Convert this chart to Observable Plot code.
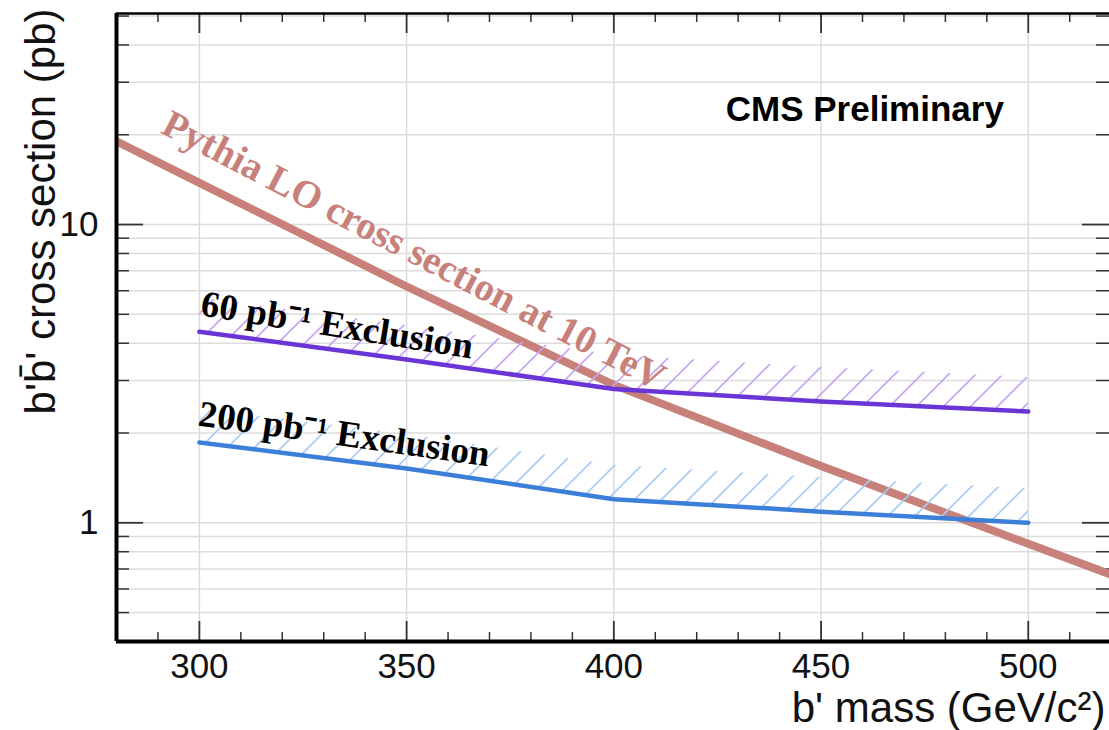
<!DOCTYPE html>
<html><head><meta charset="utf-8">
<script src="https://cdn.jsdelivr.net/npm/d3@7"></script>
<script src="https://cdn.jsdelivr.net/npm/@observablehq/plot@0.6"></script>
<style>html,body{margin:0;padding:0;background:#fff;overflow:hidden}</style>
</head><body><div id="chart"></div>
<script>
// ---- data ----
const massPythia = [280, 300, 350, 400, 450, 500, 520];
const xsecPythia = [19.0, 13.8, 6.2, 2.9, 1.55, 0.85, 0.67];
const massExcl = [300, 350, 400, 450, 500];
const excl60 = [4.37, 3.53, 2.81, 2.55, 2.36];
const excl200 = [1.86, 1.52, 1.20, 1.09, 1.00];
const xMajorTicks = [300, 350, 400, 450, 500];
const xMinorTicks = [290, 310, 320, 330, 340, 360, 370, 380, 390, 410, 420, 430, 440, 460, 470, 480, 490, 510];
const yMajorTicks = [1, 10];
const yMinorTicks = [0.4, 0.5, 0.6, 0.7, 0.8, 0.9, 2, 3, 4, 5, 6, 7, 8, 9, 20, 30, 40, 50];
const yTickLabels = ["1", "10"];
const hatchFactor = 1.3;

const pythia = massPythia.map((m, i) => ({mass: m, xsec: xsecPythia[i]}));
const ex60 = massExcl.map((m, i) => ({mass: m, v: excl60[i]}));
const ex200 = massExcl.map((m, i) => ({mass: m, v: excl200[i]}));

// ---- layout ----
const W = 1109, H = 730, mL = 116, mR = 0, mT = 13, mB = 89;
const fw = W - mL - mR, fh = H - mT - mB;

function hatchDefs() {
  const ns = "http://www.w3.org/2000/svg";
  const defs = document.createElementNS(ns, "defs");
  [["hatch60", "#c6a5f3"], ["hatch200", "#a7cbf3"]].forEach(([id, col]) => {
    const p = document.createElementNS(ns, "pattern");
    p.setAttribute("id", id);
    p.setAttribute("patternUnits", "userSpaceOnUse");
    p.setAttribute("width", 27);
    p.setAttribute("height", 27);
    const path = document.createElementNS(ns, "path");
    path.setAttribute("d", "M0,27L27,0M-3,3L3,-3M24,30L30,24");
    path.setAttribute("stroke", col);
    path.setAttribute("stroke-width", 1.6);
    path.setAttribute("fill", "none");
    p.appendChild(path);
    defs.appendChild(p);
  });
  return defs;
}

const sans = "'Liberation Sans', Arial, Helvetica, sans-serif";
const serif = "'Liberation Serif', 'Times New Roman', serif";

const chart = Plot.plot({
  width: W, height: H,
  marginLeft: mL, marginRight: mR, marginTop: mT, marginBottom: mB,
  style: {fontFamily: sans, background: "#fff", color: "#000"},
  x: {domain: [280, 519.6]},
  y: {type: "log", domain: [0.4, 51]},
  marks: [
    hatchDefs,
    // grid
    Plot.ruleX(xMajorTicks, {x: d => d, stroke: "#dcdcdc", strokeWidth: 1.5}),
    Plot.ruleY([...yMajorTicks, ...yMinorTicks], {y: d => d, stroke: "#dcdcdc", strokeWidth: 1.5}),
    // ticks (inside the frame)
    Plot.tickX(xMajorTicks, {x: d => d, insetTop: fh - 20, stroke: "#333", strokeWidth: 1.8}),
    Plot.tickX(xMinorTicks, {x: d => d, insetTop: fh - 9, stroke: "#333", strokeWidth: 1.5}),
    Plot.tickX(xMajorTicks, {x: d => d, insetBottom: fh - 20, stroke: "#333", strokeWidth: 1.8}),
    Plot.tickX(xMinorTicks, {x: d => d, insetBottom: fh - 9, stroke: "#333", strokeWidth: 1.5}),
    Plot.tickY(yMajorTicks, {y: d => d, insetRight: fw - 27, stroke: "#333", strokeWidth: 1.8}),
    Plot.tickY(yMinorTicks, {y: d => d, insetRight: fw - 13, stroke: "#333", strokeWidth: 1.5}),
    Plot.tickY(yMajorTicks, {y: d => d, insetLeft: fw - 27, stroke: "#333", strokeWidth: 1.8}),
    Plot.tickY(yMinorTicks, {y: d => d, insetLeft: fw - 13, stroke: "#333", strokeWidth: 1.5}),
    // Pythia curve
    Plot.line(pythia, {x: "mass", y: "xsec", stroke: "#c8817a", strokeWidth: 8, clip: true}),
    // exclusion hatches
    Plot.areaY(ex60, {x: "mass", y1: "v", y2: d => d.v * hatchFactor, fill: "url(#hatch60)"}),
    Plot.areaY(ex200, {x: "mass", y1: "v", y2: d => d.v * hatchFactor, fill: "url(#hatch200)"}),
    // exclusion lines
    Plot.line(ex60, {x: "mass", y: "v", stroke: "#6a34d6", strokeWidth: 4.5}),
    Plot.line(ex200, {x: "mass", y: "v", stroke: "#3c7fd8", strokeWidth: 4.5}),
    // frame
    Plot.ruleX([280], {x: d => d, stroke: "#000", strokeWidth: 4}),
    Plot.ruleY([0.4], {y: d => d, stroke: "#000", strokeWidth: 4}),
    Plot.ruleY([51], {y: d => d, stroke: "#000", strokeWidth: 2.5}),
    // axes
    Plot.axisX(xMajorTicks, {anchor: "bottom", tickSize: 0, tickPadding: 12, fontSize: 35, label: null, fill: "#111"}),
    Plot.axisY(yMajorTicks, {anchor: "left", tickSize: 0, tickPadding: 18, fontSize: 35, label: null, fill: "#111",
      tickFormat: d => yTickLabels[yMajorTicks.indexOf(d)]}),
    Plot.text(["b' mass (GeV/c\u00B2)"], {frameAnchor: "bottom-right", dx: -4, dy: 80, textAnchor: "end", lineAnchor: "bottom", fontSize: 42, fill: "#111"}),
    Plot.text(["b'b\u0304' cross section (pb)"], {frameAnchor: "top-left", dx: -62, dy: -5, rotate: -90, textAnchor: "end", lineAnchor: "bottom", fontSize: 42, fill: "#111"}),
    // annotations
    Plot.text(["CMS Preliminary"], {x: 427, y: 22.3, textAnchor: "start", lineAnchor: "bottom", fontSize: 35, fontWeight: "bold", fill: "#000"}),
    Plot.text(["Pythia LO cross section at 10 TeV"], {x: 290.4, y: 20.4, rotate: 27.5, textAnchor: "start", lineAnchor: "bottom", fontSize: 39, fontWeight: "bold", fontFamily: serif, fill: "#c8817a"}),
    Plot.text(["60 pb\u207B\u00B9 Exclusion"], {x: 300, y: 4.96, rotate: 9, textAnchor: "start", lineAnchor: "bottom", fontSize: 37, fontWeight: "bold", fontFamily: serif, fill: "#000"}),
    Plot.text(["200 pb\u207B\u00B9 Exclusion"], {x: 299.5, y: 2.12, rotate: 8, textAnchor: "start", lineAnchor: "bottom", fontSize: 37, fontWeight: "bold", fontFamily: serif, fill: "#000"})
  ]
});
document.getElementById("chart").appendChild(chart);
</script>
</body></html>
